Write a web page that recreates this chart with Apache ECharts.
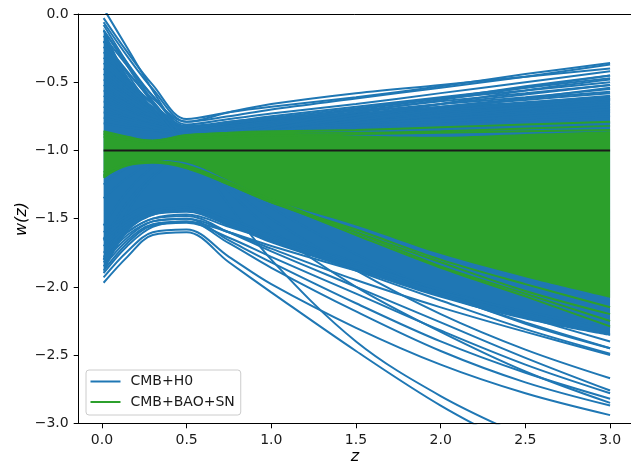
<!DOCTYPE html>
<html><head><meta charset="utf-8">
<script src="https://cdn.jsdelivr.net/npm/echarts@6/dist/echarts.min.js"></script>
<style>html,body{margin:0;padding:0;background:#fff}#c{width:631px;height:466px}</style>
</head><body><div id="c"></div>
<script>
// redshift sample points shared by every curve
const zGrid = [0.01, 0.15, 0.3, 0.5, 0.75, 1.0, 1.5, 2.0, 2.5, 3.0];
const yTickValues = [0, -0.5, -1.0, -1.5, -2.0, -2.5, -3.0];
const legendNames = ['CMB+H0', 'CMB+BAO+SN'];
const referenceW = -1;

// CMB+H0 sampled w(z) curves
const h0Curves = [
  [-0.03,-0.28,-0.52,-0.77,-0.72,-0.68,-0.61,-0.53,-0.44,-0.36],
  [-0.06,-0.31,-0.55,-0.79,-0.75,-0.70,-0.62,-0.54,-0.46,-0.37],
  [-0.12,-0.36,-0.60,-0.83,-0.80,-0.78,-0.72,-0.66,-0.61,-0.55],
  [-0.16,-0.38,-0.60,-0.81,-0.77,-0.73,-0.66,-0.58,-0.50,-0.42],
  [-0.20,-0.42,-0.64,-0.86,-0.84,-0.82,-0.79,-0.75,-0.72,-0.68],
  [-0.24,-0.43,-0.62,-0.79,-0.72,-0.66,-0.58,-0.52,-0.46,-0.40],
  [-0.28,-0.47,-0.66,-0.85,-0.82,-0.79,-0.75,-0.70,-0.65,-0.60],
  [-0.32,-0.49,-0.66,-0.82,-0.79,-0.75,-0.68,-0.61,-0.54,-0.47],
  [-0.36,-0.53,-0.71,-0.88,-0.86,-0.85,-0.83,-0.80,-0.78,-0.75],
  [-0.40,-0.54,-0.68,-0.83,-0.80,-0.77,-0.70,-0.62,-0.53,-0.45],
  [-0.44,-0.58,-0.72,-0.86,-0.83,-0.81,-0.77,-0.72,-0.68,-0.63],
  [-0.48,-0.60,-0.72,-0.84,-0.80,-0.77,-0.71,-0.64,-0.58,-0.52],
  [-0.52,-0.64,-0.76,-0.88,-0.87,-0.86,-0.85,-0.83,-0.82,-0.80],
  [-0.56,-0.66,-0.75,-0.85,-0.82,-0.79,-0.74,-0.68,-0.62,-0.57],
  [-0.60,-0.69,-0.78,-0.87,-0.85,-0.83,-0.80,-0.77,-0.73,-0.70],
  [-0.64,-0.71,-0.77,-0.84,-0.79,-0.76,-0.69,-0.62,-0.56,-0.50],
  [-0.68,-0.75,-0.81,-0.88,-0.86,-0.83,-0.79,-0.75,-0.70,-0.66],
  [-0.72,-0.77,-0.81,-0.86,-0.83,-0.80,-0.74,-0.68,-0.63,-0.58],
  [-0.76,-0.80,-0.85,-0.89,-0.87,-0.85,-0.82,-0.79,-0.75,-0.72],
  [-0.80,-0.83,-0.85,-0.87,-0.84,-0.81,-0.76,-0.71,-0.66,-0.62],
  [-1.55,-1.30,-1.12,-0.97,-0.88,-0.82,-0.72,-0.63,-0.54,-0.45],
  [-1.35,-1.20,-1.08,-0.96,-0.90,-0.86,-0.78,-0.70,-0.62,-0.54],
  [-1.80,-1.45,-1.20,-1.02,-0.92,-0.86,-0.80,-0.74,-0.68,-0.62],
  [-1.25,-1.12,-1.02,-0.94,-0.88,-0.84,-0.76,-0.66,-0.56,-0.48],
  [-1.65,-1.38,-1.18,-1.00,-0.90,-0.84,-0.74,-0.66,-0.59,-0.52],
  [-1.97,-1.78,-1.62,-1.60,-1.82,-2.04,-2.47,-2.87,-3.20,-3.50],
  [0.04,-0.25,-0.56,-0.95,-1.40,-1.80,-2.40,-2.80,-3.10,-3.35],
  [-0.08,-0.36,-0.64,-0.97,-1.30,-1.58,-2.00,-2.33,-2.62,-2.85],
  [-0.12,-0.38,-0.66,-0.96,-1.26,-1.50,-1.88,-2.20,-2.46,-2.67],
  [-0.20,-0.44,-0.70,-0.97,-1.22,-1.42,-1.76,-2.04,-2.27,-2.45],
  [-1.93,-1.74,-1.60,-1.58,-1.78,-1.98,-2.30,-2.57,-2.78,-2.94],
  [-1.85,-1.66,-1.54,-1.52,-1.68,-1.86,-2.18,-2.47,-2.70,-2.87],
  [-1.80,-1.62,-1.52,-1.50,-1.66,-1.82,-2.12,-2.40,-2.63,-2.82],
  [-1.88,-1.68,-1.55,-1.53,-1.64,-1.78,-2.05,-2.32,-2.57,-2.78],
  [-1.75,-1.60,-1.50,-1.48,-1.60,-1.74,-2.00,-2.26,-2.52,-2.76],
  [-1.82,-1.64,-1.52,-1.50,-1.60,-1.72,-1.95,-2.15,-2.33,-2.50],
  [-1.70,-1.56,-1.47,-1.45,-1.55,-1.66,-1.88,-2.10,-2.31,-2.49],
  [-1.78,-1.60,-1.50,-1.47,-1.56,-1.66,-1.86,-2.06,-2.26,-2.45],
  [-1.60,-1.48,-1.40,-1.40,-1.50,-1.62,-1.82,-2.03,-2.22,-2.40],
  [-1.66,-1.52,-1.44,-1.42,-1.52,-1.63,-1.83,-2.02,-2.19,-2.35],
  [-1.90,-1.70,-1.56,-1.52,-1.60,-1.70,-1.88,-2.04,-2.18,-2.30]
];
// dense core of the CMB+H0 samples (upper and lower envelope)
const h0CoreUpper = [-0.10,-0.45,-0.68,-0.83,-0.80,-0.76,-0.72,-0.68,-0.64,-0.60];
const h0CoreLower = [-1.90,-1.60,-1.48,-1.45,-1.55,-1.68,-1.88,-2.08,-2.24,-2.36];

// CMB+BAO+SN dense band and edge strands
const snCoreUpper = [-0.86,-0.91,-0.92,-0.88,-0.87,-0.87,-0.89,-0.90,-0.88,-0.86];
const snCoreLower = [-1.20,-1.10,-1.07,-1.09,-1.22,-1.36,-1.55,-1.76,-1.93,-2.08];
const snCurves = [
  [-0.86,-0.90,-0.93,-0.89,-0.87,-0.86,-0.85,-0.83,-0.81,-0.79],
  [-0.88,-0.91,-0.93,-0.90,-0.88,-0.87,-0.87,-0.86,-0.84,-0.82],
  [-0.90,-0.92,-0.94,-0.91,-0.90,-0.89,-0.88,-0.87,-0.86,-0.85],
  [-1.18,-1.10,-1.08,-1.12,-1.25,-1.38,-1.60,-1.82,-2.03,-2.20],
  [-1.16,-1.10,-1.08,-1.12,-1.24,-1.37,-1.62,-1.86,-2.07,-2.29],
  [-1.19,-1.11,-1.09,-1.13,-1.25,-1.38,-1.58,-1.80,-1.98,-2.15],
  [-1.20,-1.10,-1.08,-1.11,-1.23,-1.36,-1.60,-1.85,-2.05,-2.25]
];

const BLUE = '#1f77b4', GREEN = '#2ca02c', BLACK = '#1a1a1a';
const SMOOTH = 0.35;
const FONT = '"DejaVu Sans", sans-serif';

function pts(vals) { return zGrid.map((z, i) => [z, vals[i]]); }
function curve(name, vals, color, zLevel) {
  return { type: 'line', name: name, z: zLevel, data: pts(vals), smooth: SMOOTH, symbol: 'none', showSymbol: false,
    lineStyle: { color: color, width: 2 }, itemStyle: { color: color }, silent: true, animation: false };
}
// band between two envelopes: values stored as [w, z] so that w is the stacked dimension
function band(id, lower, upper, color, zLevel) {
  const dims = [{ name: 'w', type: 'float' }, { name: 'z', type: 'float' }];
  return [
    { type: 'line', name: id + '_lo', z: zLevel, stack: id, stackStrategy: 'all', dimensions: dims, encode: { x: 'z', y: 'w' },
      data: zGrid.map((z, i) => [lower[i], z]), smooth: SMOOTH,
      symbol: 'none', lineStyle: { width: 0, opacity: 0 }, silent: true, animation: false },
    { type: 'line', name: id + '_hi', z: zLevel, stack: id, stackStrategy: 'all', dimensions: dims, encode: { x: 'z', y: 'w' },
      data: zGrid.map((z, i) => [upper[i] - lower[i], z]), smooth: SMOOTH,
      symbol: 'none', lineStyle: { width: 0, opacity: 0 }, areaStyle: { color: color, opacity: 1 },
      itemStyle: { color: color }, silent: true, animation: false }
  ];
}

const series = [];
series.push(curve(legendNames[0], h0Curves[0], BLUE, 2));
series.push(...band('h0core', h0CoreLower, h0CoreUpper, BLUE, 1));
h0Curves.slice(1).forEach(c => series.push(curve(legendNames[0], c, BLUE, 2)));
series.push(curve(legendNames[1], snCurves[0], GREEN, 4));
series.push(...band('sncore', snCoreLower, snCoreUpper, GREEN, 3));
snCurves.slice(1).forEach(c => series.push(curve(legendNames[1], c, GREEN, 4)));
series.push({ type: 'line', name: 'reference', z: 5, data: [[zGrid[0], referenceW], [zGrid[zGrid.length - 1], referenceW]],
  symbol: 'none', lineStyle: { color: BLACK, width: 2 }, silent: true, animation: false });

const XMIN = -0.137, XMAX = 3.1235;
const chart = echarts.init(document.getElementById('c'), null, { renderer: 'canvas' });
chart.setOption({
  animation: false,
  backgroundColor: '#fff',
  grid: { left: 78.7, right: 0, top: 14, bottom: 42.7, containLabel: false },
  xAxis: [
    { type: 'value', min: XMIN, max: XMAX, position: 'bottom', z: 6,
      axisLine: { show: true, onZero: false, lineStyle: { color: '#000', width: 1 } },
      axisTick: { show: true, length: 5, lineStyle: { color: '#000', width: 1 } },
      axisLabel: { show: true, margin: 10, color: '#1a1a1a', fontSize: 14, fontFamily: FONT,
        showMinLabel: false, showMaxLabel: false,
        formatter: v => (Math.abs(v) < 1e-9 ? '0.0' : v.toFixed(1)) },
      splitLine: { show: false } },
    { type: 'value', min: XMIN, max: XMAX, position: 'top', z: 6,
      axisLine: { show: true, onZero: false, lineStyle: { color: '#000', width: 1 } },
      axisTick: { show: false }, axisLabel: { show: false }, splitLine: { show: false } }
  ],
  yAxis: {
    type: 'value', min: yTickValues[yTickValues.length - 1], max: yTickValues[0], interval: 0.5, z: 6,
    axisLine: { show: true, onZero: false, lineStyle: { color: '#000', width: 1 } },
    axisTick: { show: true, length: 5, lineStyle: { color: '#000', width: 1 } },
    axisLabel: { margin: 10, color: '#1a1a1a', fontSize: 14, fontFamily: FONT,
      formatter: v => (v < 0 ? '\u2212' + Math.abs(v).toFixed(1) : v.toFixed(1)) },
    splitLine: { show: false }
  },
  legend: {
    data: legendNames, orient: 'vertical', left: 86, top: 370, z: 10,
    padding: [4.5, 6, 6, 4.5], itemGap: 6.5, itemWidth: 30, itemHeight: 2, icon: 'rect',
    textStyle: { fontFamily: FONT, fontSize: 14, color: '#1a1a1a', padding: [0, 0, 0, 5] },
    backgroundColor: 'rgba(255,255,255,0.8)', borderColor: '#cccccc', borderWidth: 1, borderRadius: 3,
    selectedMode: false
  },
  graphic: [
    { type: 'text', x: 22, y: 219, rotation: Math.PI / 2,
      style: { text: 'w(z)', font: 'italic 16px "DejaVu Sans"', fill: '#000', align: 'center', verticalAlign: 'middle' } },
    { type: 'text', x: 355, y: 457,
      style: { text: 'z', font: 'italic 16px "DejaVu Sans"', fill: '#000', align: 'center', verticalAlign: 'middle' } }
  ],
  series: series
});
</script>
</body></html>
